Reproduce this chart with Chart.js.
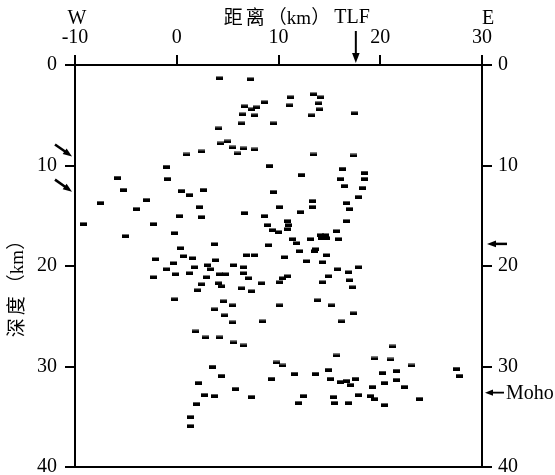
<!DOCTYPE html>
<html>
<head>
<meta charset="utf-8">
<script src="https://cdn.jsdelivr.net/npm/chart.js@4.4.0/dist/chart.umd.min.js"></script>
<style>
  html, body { margin: 0; padding: 0; background: #fff; }
  canvas { display: block; }
</style>
</head>
<body>
<canvas id="c" width="555" height="475"></canvas>
<script>
// tick values
var distTicks = [-10, 0, 10, 20, 30];
var depthTicks = [0, 10, 20, 30, 40];

// hypocentres, upper crust (distance km, depth km)
var upperDist  = [4.2, 7.2, 6.7, 7.3, 7.8, 8.6, 6.5, 7.6, 6.4, 9.5, 4.1, 4.3, 5.0, 5.5, 6.0, 6.6, 7.6, 1.0, 2.4, -1.0, 9.1, -0.9, -5.8, -5.2, 0.5, 1.3, 2.6, 9.5, -7.5, -3.0, -4.0, 2.2, 10.1, 11.2, 11.1, 13.4, 14.1, 13.9, 14.0, 13.2, 17.5, 13.4, 17.4, 12.3, 16.3, 16.1, 18.5, 18.5, 16.5, 18.3, 13.3, 13.3, 16.7, 17.9, 17.0, 12.2];
var upperDepth = [1.3, 1.4, 4.1, 4.4, 4.2, 3.7, 4.9, 5.0, 5.8, 5.8, 6.3, 7.8, 7.6, 8.2, 8.8, 8.3, 8.4, 8.9, 8.6, 10.1, 10.0, 11.3, 11.2, 12.4, 12.5, 12.9, 12.4, 12.6, 13.7, 13.4, 14.3, 14.1, 14.1, 3.2, 4.0, 2.9, 3.2, 3.8, 4.4, 5.0, 4.8, 8.9, 9.0, 10.9, 10.3, 11.3, 10.7, 11.3, 12.0, 12.2, 13.5, 14.1, 13.7, 13.1, 14.3, 14.6];

// middle crust
var midDist  = [-9.2, 0.3, 2.4, 6.7, 8.6, 10.9, -2.3, 8.9, 9.4, 10.0, 11.0, 10.9, -5.0, -0.2, 3.7, 9.0, 0.4, 1.5, 0.7, 3.8, 6.9, 7.6, 10.6, -2.1, -0.3, 1.7, 3.0, 5.6, 6.6, -1.0, -0.1, 1.3, 4.2, 4.8, 3.3, 6.6, 7.1, -2.3, 2.9, 2.4, 4.1, 4.4, 8.3, 10.1, 10.9, 10.4, 2.0, 6.4, 7.3, -0.2, 4.6, 5.5, 10.1, 3.7, 4.7,
                16.7, 14.1, 14.6, 14.2, 14.7, 13.1, 15.7, 15.9, 11.4, 11.8, 12.1, 13.5, 13.6, 14.7, 12.8, 14.3, 17.9, 15.8, 14.9, 16.9, 17.0, 14.3, 17.3, 13.8, 15.2, 17.4];
var midDepth = [15.8, 15.0, 15.1, 14.7, 15.0, 15.5, 15.8, 15.9, 16.4, 16.6, 15.9, 16.3, 17.0, 16.7, 17.8, 17.9, 18.2, 19.2, 19.0, 19.4, 18.9, 18.9, 19.1, 19.3, 19.7, 20.1, 19.9, 19.9, 20.1, 20.3, 20.8, 20.7, 20.8, 20.8, 20.3, 20.7, 21.2, 21.1, 21.1, 21.8, 21.7, 22.0, 21.7, 21.6, 21.0, 21.2, 22.4, 22.2, 22.5, 23.3, 23.5, 23.9, 23.9, 24.3, 24.9,
                15.5, 16.9, 16.9, 17.2, 17.2, 17.3, 16.5, 17.3, 17.3, 17.7, 18.5, 18.5, 18.3, 18.9, 19.5, 19.6, 20.1, 20.3, 21.0, 20.6, 21.4, 21.6, 22.1, 23.4, 23.9, 24.7];

// lower crust / near Moho
var lowerDist  = [5.5, 8.4, 16.2, 1.8, 2.8, 4.2, 5.6, 6.6, 3.5, 4.4, 2.1, 2.7, 3.7, 5.8, 7.3, 1.9, 1.4, 1.4, 15.7, 19.4, 21.0, 21.2, 9.8, 10.4, 11.6, 13.6, 14.9, 15.1, 16.1, 16.7, 17.6, 17.1, 9.3, 20.2, 21.6, 23.1, 19.2, 20.4, 21.6, 22.4, 27.5, 27.8, 12.5, 12.0, 15.4, 15.5, 16.9, 17.9, 19.0, 19.4, 20.4, 23.9];
var lowerDepth = [25.6, 25.5, 25.5, 26.5, 27.1, 27.1, 27.6, 27.9, 30.0, 30.9, 31.6, 32.8, 32.9, 32.2, 33.0, 33.7, 35.0, 35.9, 28.9, 29.2, 29.3, 28.0, 29.6, 29.9, 30.7, 30.7, 30.3, 31.2, 31.5, 31.4, 31.2, 31.8, 31.2, 30.6, 30.4, 29.9, 32.0, 31.6, 31.3, 32.0, 30.2, 30.9, 32.9, 33.6, 33.0, 33.6, 33.6, 32.8, 32.9, 33.2, 33.8, 33.2];

// marked features
var tlfDist = 17.6;
var leftArrowDepths = [9.1, 12.6];
var rightArrowDepth = 17.8;
var mohoDepth = 32.6;

var SERIF = '"Liberation Serif", "Noto Sans CJK SC", serif';

function pts(xs, ys) {
  var out = [];
  for (var i = 0; i < xs.length; i++) out.push({ x: xs[i], y: ys[i] });
  return out;
}

// short dash used as the event marker
var dash = document.createElement('canvas');
dash.width = 7; dash.height = 4;
(function () {
  var g = dash.getContext('2d');
  g.fillStyle = '#000';
  g.fillRect(0, 0.5, 7, 3.5);
})();

function arrow(ctx, x1, y1, x2, y2, head) {
  var a = Math.atan2(y2 - y1, x2 - x1);
  var c = Math.cos(a), s = Math.sin(a);
  ctx.beginPath();
  ctx.moveTo(x1, y1);
  ctx.lineTo(x2 - head * 0.7 * c, y2 - head * 0.7 * s);
  ctx.stroke();
  ctx.beginPath();
  ctx.moveTo(x2, y2);
  ctx.lineTo(x2 - head * c + head * 0.38 * s, y2 - head * s - head * 0.38 * c);
  ctx.lineTo(x2 - head * c - head * 0.38 * s, y2 - head * s + head * 0.38 * c);
  ctx.closePath();
  ctx.fill();
}

// "距离（km）" style title: CJK part spaced out, unit part tight, centred on cx
function spacedTitle(ctx, cjk, unit, cx, cy) {
  ctx.font = '19px ' + SERIF;
  ctx.letterSpacing = '3px';
  var w1 = ctx.measureText(cjk).width;
  ctx.letterSpacing = '0px';
  var w2 = ctx.measureText(unit).width;
  var x0 = cx - (w1 + w2) / 2;
  ctx.textAlign = 'left';
  ctx.letterSpacing = '3px';
  ctx.fillText(cjk, x0, cy);
  ctx.letterSpacing = '0px';
  ctx.fillText(unit, x0 + w1, cy);
}

var labels = {
  id: 'labels',
  afterDraw: function (chart) {
    var ctx = chart.ctx;
    var xs = chart.scales.x, ys = chart.scales.y;
    var area = chart.chartArea;
    ctx.save();
    ctx.fillStyle = '#000';
    ctx.strokeStyle = '#000';
    ctx.lineWidth = 2.5;
    ctx.font = '20px ' + SERIF;
    ctx.textBaseline = 'middle';
    ctx.textAlign = 'center';
    ctx.fillText('W', xs.getPixelForValue(-10) + 2, 19);
    ctx.fillText('E', xs.getPixelForValue(30) + 6, 19);
    ctx.fillText('TLF', 352, 18);
    spacedTitle(ctx, '距离', '（km）', 277, 19);

    // TLF arrow
    var tx = xs.getPixelForValue(tlfDist);
    ctx.lineWidth = 2;
    arrow(ctx, tx, 31, tx, area.top - 2, 10);

    // left arrows
    ctx.lineWidth = 2.5;
    leftArrowDepths.forEach(function (d) {
      var y = ys.getPixelForValue(d);
      arrow(ctx, area.left - 20, y - 12, area.left - 3, y, 9);
    });
    // right arrow
    var ry = ys.getPixelForValue(rightArrowDepth);
    arrow(ctx, area.right + 25, ry, area.right + 5, ry, 9);
    // Moho
    var my = ys.getPixelForValue(mohoDepth);
    ctx.lineWidth = 1.8;
    arrow(ctx, area.right + 22, my, area.right + 3, my, 8);
    ctx.font = '20px ' + SERIF;
    ctx.textAlign = 'left';
    ctx.fillText('Moho', area.right + 24, my + 1);

    // depth title
    ctx.translate(18, 284);
    ctx.rotate(-Math.PI / 2);
    spacedTitle(ctx, '深度', '（km）', 0, 0);
    ctx.restore();
  }
};

function fixedSize(prop, v) {
  return function (scale) {
    scale[prop] = v;
    scale.paddingTop = 0; scale.paddingBottom = 0;
    scale.paddingLeft = 0; scale.paddingRight = 0;
  };
}

var tickFont = { family: SERIF, size: 20 };
var axisGrid = { drawOnChartArea: false, color: '#000', lineWidth: 2, tickLength: 10 };
var axisBorder = { color: '#000', width: 2 };

new Chart(document.getElementById('c'), {
  type: 'scatter',
  data: {
    datasets: [
      { label: 'upper', data: pts(upperDist, upperDepth) },
      { label: 'middle', data: pts(midDist, midDepth) },
      { label: 'lower', data: pts(lowerDist, lowerDepth) }
    ]
  },
  options: {
    responsive: false,
    animation: false,
    devicePixelRatio: 1,
    layout: { padding: 0 },
    elements: { point: { pointStyle: dash, radius: 4 } },
    plugins: { legend: { display: false }, tooltip: { enabled: false } },
    scales: {
      x: {
        type: 'linear', position: 'top', min: -10, max: 30,
        afterBuildTicks: function (s) { s.ticks = distTicks.map(function (v) { return { value: v }; }); },
        ticks: { font: tickFont, color: '#000', padding: 5, maxRotation: 0 },
        grid: axisGrid, border: axisBorder,
        afterFit: fixedSize('height', 65)
      },
      x2: {
        type: 'linear', position: 'bottom', min: -10, max: 30,
        ticks: { display: false },
        grid: { display: false },
        border: axisBorder,
        afterFit: fixedSize('height', 8)
      },
      y: {
        type: 'linear', position: 'left', reverse: true, min: 0, max: 40,
        afterBuildTicks: function (s) { s.ticks = depthTicks.map(function (v) { return { value: v }; }); },
        ticks: { font: tickFont, color: '#000', padding: 8 },
        grid: axisGrid, border: axisBorder,
        afterFit: fixedSize('width', 75)
      },
      y2: {
        type: 'linear', position: 'right', reverse: true, min: 0, max: 40,
        afterBuildTicks: function (s) { s.ticks = depthTicks.map(function (v) { return { value: v }; }); },
        ticks: { font: tickFont, color: '#000', padding: 6 },
        grid: axisGrid, border: axisBorder,
        afterFit: fixedSize('width', 73)
      }
    }
  },
  plugins: [labels]
});
</script>
</body>
</html>
